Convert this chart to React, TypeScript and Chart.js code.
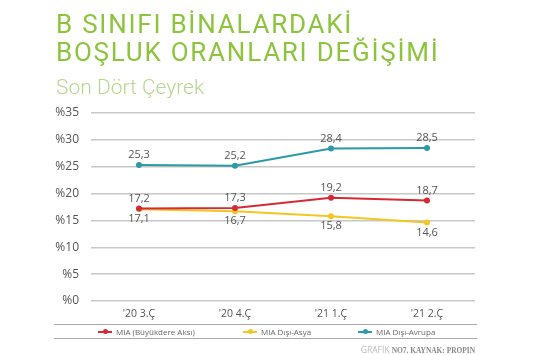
import React, { useEffect, useRef } from "react";
import { Chart, registerables } from "chart.js";

Chart.register(...registerables);

const categories = ["'20 3.Ç", "'20 4.Ç", "'21 1.Ç", "'21 2.Ç"];
const seriesNames = ["MIA (Büyükdere Aksı)", "MIA Dışı-Asya", "MIA Dışı-Avrupa"];
const miaValues = [17.2, 17.3, 19.2, 18.7];
const asyaValues = [17.1, 16.7, 15.8, 14.6];
const avrupaValues = [25.3, 25.2, 28.4, 28.5];
const seriesColors = ["#d42a36", "#f3c623", "#2b9aa6"];
const labelSides = ["top", "bottom", "top"];
const yTicks = [0, 5, 10, 15, 20, 25, 30, 35];

const FONT = "'Open Sans', 'Noto Sans', sans-serif";

const dataLabelPlugin = {
  id: "dataLabels",
  afterDatasetsDraw(chart: any) {
    const ctx = chart.ctx;
    ctx.save();
    ctx.font = `11px ${FONT}`;
    ctx.fillStyle = "#555";
    ctx.textAlign = "center";
    ctx.textBaseline = "middle";
    chart.data.datasets.forEach((ds: any, i: number) => {
      const meta = chart.getDatasetMeta(i);
      meta.data.forEach((pt: any, j: number) => {
        const v = ds.data[j];
        const txt = String(v).replace(".", ",");
        const dy = labelSides[i] === "top" ? -10 : 10;
        ctx.fillText(txt, pt.x, pt.y + dy);
      });
    });
    ctx.restore();
  },
};

function ChartCanvas() {
  const ref = useRef<HTMLCanvasElement>(null);
  useEffect(() => {
    if (!ref.current) return;
    const all = [miaValues, asyaValues, avrupaValues];
    const chart = new Chart(ref.current, {
      type: "line",
      data: {
        labels: categories,
        datasets: all.map((vals, i) => ({
          label: seriesNames[i],
          data: vals,
          borderColor: seriesColors[i],
          backgroundColor: seriesColors[i],
          borderWidth: 2,
          pointRadius: 3,
          pointBorderWidth: 0,
          tension: 0,
        })),
      },
      options: {
        animation: false,
        responsive: false,
        layout: { padding: { left: 40, right: 80, top: 113, bottom: 34 } },
        plugins: { legend: { display: false }, tooltip: { enabled: false } },
        scales: {
          x: {
            offset: true,
            grid: { display: false, drawTicks: false },
            border: { display: false },
            ticks: { font: { family: FONT, size: 10.5 }, color: "#555", padding: 7 },
            afterFit: (s: any) => { s.height = 20; },
          },
          y: {
            min: 0,
            max: 35,
            afterBuildTicks: (s: any) => { s.ticks = yTicks.map((v) => ({ value: v })); },
            grid: { color: "#c8c8c8", lineWidth: 1.5, drawTicks: false },
            border: { display: false },
            ticks: {
              font: { family: FONT, size: 12 },
              color: "#555",
              padding: 12,
              callback: (v: any) => "%" + v,
            },
            afterFit: (s: any) => { s.width = 51; },
          },
        },
      },
      plugins: [dataLabelPlugin],
    });
    return () => chart.destroy();
  }, []);
  return <canvas ref={ref} width={555} height={355} style={{ position: "absolute", left: 0, top: 0 }} />;
}

export default function App() {
  const legendX = [98, 243, 358];
  return (
    <div style={{ position: "fixed", left: 0, top: 0, width: 555, height: 355, background: "#fff", overflow: "hidden", fontFamily: FONT }}>
      <ChartCanvas />
      <div style={{ position: "absolute", left: 56, top: 10, color: "#8cc43c", fontSize: 26, lineHeight: "28px", letterSpacing: "1.75px", fontFamily: "Roboto, sans-serif", whiteSpace: "nowrap" }}>
        <div>B SINIFI BİNALARDAKİ</div>
        <div>BOŞLUK ORANLARI DEĞİŞİMİ</div>
      </div>
      <div style={{ position: "absolute", left: 56, top: 77, color: "#b7d88c", fontSize: 21, lineHeight: "21px", fontFamily: "Roboto, sans-serif", fontWeight: 300, whiteSpace: "nowrap" }}>
        Son Dört Çeyrek
      </div>
      <div style={{ position: "absolute", left: 54, top: 324, width: 423, height: 13, borderTop: "1px solid #aaa", borderBottom: "1px solid #aaa" }} />
      {seriesNames.map((n, i) => (
        <div key={n} style={{ position: "absolute", left: legendX[i], top: 325, height: 13, display: "flex", alignItems: "center", whiteSpace: "nowrap" }}>
          <span style={{ position: "relative", width: 14, height: 2, background: seriesColors[i], display: "inline-block", marginRight: 4 }}>
            <span style={{ position: "absolute", left: 4.5, top: -1.5, width: 5, height: 5, borderRadius: 3, background: seriesColors[i] }} />
          </span>
          <span style={{ fontSize: 8, color: "#666" }}>{n}</span>
        </div>
      ))}
      <div style={{ position: "absolute", right: 80, top: 341, whiteSpace: "nowrap", lineHeight: "12px" }}>
        <span style={{ color: "#bbb", fontFamily: FONT, fontSize: 8.5 }}>GRAFİK </span>
        <span style={{ color: "#888", fontWeight: "bold", fontFamily: "'Liberation Serif', serif", fontSize: 7.4 }}>NO7. KAYNAK: PROPIN</span>
      </div>
    </div>
  );
}
